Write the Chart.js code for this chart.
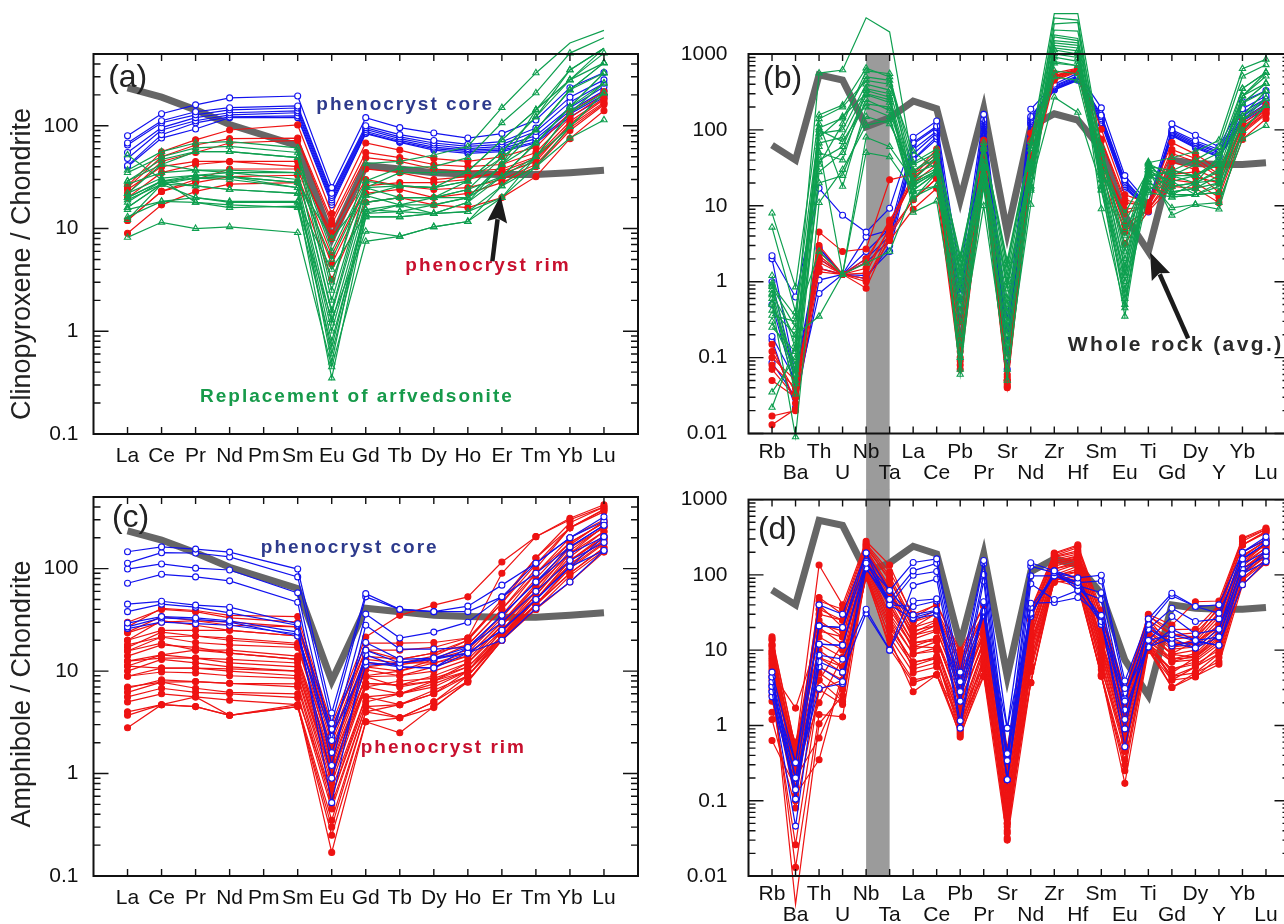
<!DOCTYPE html>
<html>
<head>
<meta charset="utf-8">
<script src="https://cdn.jsdelivr.net/npm/chart.js@4.4.1/dist/chart.umd.min.js"></script>
<style>
html,body{margin:0;padding:0;background:#ffffff;width:1284px;height:924px;overflow:hidden;position:relative}
canvas{position:absolute;display:block}
</style>
</head>
<body>
<canvas id="ca" width="642" height="490" style="left:0;top:0"></canvas>
<canvas id="cb" width="700" height="490" style="left:642px;top:0"></canvas>
<canvas id="cc" width="642" height="458" style="left:0;top:466px"></canvas>
<canvas id="cd" width="700" height="458" style="left:642px;top:466px"></canvas>
<script>
// ---------------- axes / categories ----------------
const REE_AXIS = ['La','Ce','Pr','Nd','Pm','Sm','Eu','Gd','Tb','Dy','Ho','Er','Tm','Yb','Lu'];
const SPIDER_AXIS = ['Rb','Ba','Th','U','Nb','Ta','La','Ce','Pb','Pr','Sr','Nd','Zr','Hf','Sm','Eu','Ti','Gd','Dy','Y','Yb','Lu'];
const REE_COLS = ['La','Ce','Pr','Nd','Sm','Eu','Gd','Tb','Dy','Ho','Er','Tm','Yb','Lu'];
const TRACE_COLS = ['Rb','Ba','Th','U','Nb','Ta','Pb','Sr','Zr','Hf','Ti','Y'];
const Y_TICKS_REE = [0.1, 1, 10, 100];
const Y_LABELS_REE = ['0.1', '1', '10', '100'];
const Y_TICKS_SPIDER = [0.01, 0.1, 1, 10, 100, 1000];
const Y_LABELS_SPIDER = ['0.01', '0.1', '1', '10', '100', '1000'];
const BAND_ELEMENTS = ['Nb', 'Ta'];

// ---------------- whole rock average ----------------
const wholeRockREE = [234,190,143,103,64,8,41,38,35,34,33.5,33.5,35,37];
const wholeRockSpider = [63,40,530,455,110,144,240,190,12,190,4.5,110,163,135,56,7.4,2.5,40,36,35,35,37];

// ---------------- clinopyroxene: phenocryst core ----------------
const cpxCoreREE = [
 [80,131,160,187,195,25,120,96,85,76,84,114,235,330],
 [68,112,137,150,156,22,100,82,72,66,70,95,190,280],
 [65,107,128,143,149,21,96,78,68,63,66,88,170,260],
 [55,96,120,134,140,20,92,75,65,60,63,80,150,240],
 [48,91,112,128,134,19,88,72,62,58,60,75,140,220],
 [41,82,107,122,125,18,85,70,60,56,58,70,130,200],
 [40,76,93,120,120,17,84,69,58,54,56,68,122,190]
];
const cpxCoreTrace = [
 [2.2,0.63,17,7.5,4.5,9.3,1.2,0.31,400,560,10.8,60],
 [2.0,0.06,2.8,1.25,3.9,4.8,0.67,0.2,380,520,10,55],
 [0.19,0.05,2.7,1.25,1.8,3.5,0.5,0.15,370,500,9.5,52],
 [0.17,0.022,1.05,1.25,1.1,3,0.3,0.1,360,480,9,50],
 [0.086,0.03,0.7,1.25,1.2,2.5,0.2,0.07,350,470,8.3,47],
 [0.5,0.04,1.5,1.25,2,4,0.25,0.09,340,460,8.8,45],
 [1.0,0.05,2,1.25,2.5,5,0.4,0.12,335,450,9,44]
];
// ---------------- clinopyroxene: phenocryst rim ----------------
const cpxRimREE = [
 [26,56,73,91,102,14,68,58,48,45,50,62,135,215],
 [25,50,65,75,76,12,55,49,42,40,42,55,120,200],
 [22,45,55,68,72,11,49,45,38,36,38,50,110,185],
 [24,40,45,45,40,9,38,35,30,32,34,45,105,180],
 [20,35,42,45,45,8,30,26,24,25,30,42,95,165],
 [12,23,30,38,38,5.5,26,28,28,30,36,48,100,170],
 [12,23,28,32,33,4.5,22,24,20,22,28,40,90,160],
 [9,17,23,27,28,3.2,18,20,17,16,20,32,75,140]
];
const cpxRimTrace = [
 [0.15,0.025,4.5,2.5,2.7,22,0.3,0.06,560,650,11,30],
 [0.017,0.02,2.2,1.25,2.0,6,0.2,0.055,520,640,10,26],
 [0.013,0.021,1.35,1.25,1.3,5.2,0.15,0.05,500,620,10,24],
 [0.12,0.035,2.5,1.25,1.5,5,0.12,0.05,500,610,10,22],
 [0.07,0.03,3,1.25,1.8,6.5,0.1,0.05,510,620,10,20],
 [0.05,0.03,1.5,1.25,0.82,4,0.09,0.045,480,600,9,15],
 [0.08,0.04,2,1.25,1.0,4.5,0.08,0.042,470,590,9,13],
 [0.1,0.05,1.8,1.25,1.1,3.5,0.07,0.04,450,580,8.5,11]
];
// ---------------- clinopyroxene: replacement of arfvedsonite ----------------
const cpxReplREE = [
 [35,50,61,63,55,2.5,43,45,52,63,150,327,640,850],
 [37,56,68,70,61,3,29,39,40,49,107,209,510,720],
 [29,42,56,56,49,2,25,35,35,36,73,143,350,570],
 [27,35,37,37,35,1.5,21,26,25,29,56,122,280,510],
 [22,31,33,32,28,1.2,18,20,20,24,49,91,224,410],
 [20,29,31,30,25,1,15.3,17,17,20,42,68,153,327],
 [19,27,26,24,22,0.8,14,14.6,14,18,32,50,134,260],
 [18,29,26,24,22,0.6,13,13,14,14.6,26,40,98,209],
 [16,27,31,32,25,0.5,18,20,20,24,32,68,153,327],
 [15.3,18.4,20,18.4,18.4,0.35,13,13,14,18,42,91,224,410],
 [13,18.4,18,16,16.5,1.3,9.4,8.4,10.4,11.7,20,40,76,114],
 [12.2,27,20,18,18,4,14,17,20,29,49,91,224,327],
 [8.2,11.5,10,10.4,9.1,0.45,7.5,8.4,10.4,11.7,26,50,98,209],
 [52,30,18,17,16,0.7,15.3,14.6,17,20,42,143,280,570],
 [29,47,56,56,49,6,29,26,25,29,56,122,350,570],
 [22,42,37,35,30,5,25,20,20,20,32,68,153,260],
 [20,29,33,32,28,8,21,17,14,14.6,20,50,134,209],
 [16,27,33,35,35,1.6,25,26,25,36,73,143,280,410]
];
const cpxReplTrace = [
 [0.86,0.25,560,615,3000,1950,2.2,1.9,3400,3400,37,73],
 [8,0.85,157,212,650,500,2,1.5,2070,2000,33,60],
 [5.2,0.4,106,143,500,450,1.8,1.2,1780,1600,30,50],
 [1.2,0.13,90,100,400,335,1.5,1,1680,1500,27,36],
 [0.95,0.06,67,80,330,270,1.3,0.8,1400,1300,25,30],
 [0.78,0.045,40,60,290,230,1,0.6,1130,1000,20,25],
 [0.67,0.033,28,50,250,180,0.8,0.5,910,800,18,18],
 [0.52,0.009,11,30,115,135,0.6,0.4,760,700,15,15],
 [0.42,0.2,0.35,1.25,50,44,0.5,0.3,500,450,35,28],
 [0.36,0.3,2.5,1.25,1.75,2.5,0.4,0.2,270,170,28,20],
 [0.035,0.1,120,18,200,150,0.3,0.15,1000,900,22,11],
 [0.022,0.15,80,150,300,250,0.2,0.1,1200,1100,32,45],
 [0.5,0.08,50,40,350,300,0.15,0.07,1500,1400,30,9],
 [0.6,0.05,140,200,450,400,0.1,0.05,2500,2600,38,20],
 [0.3,0.07,20,25,150,120,0.07,1.7,800,700,24,35],
 [0.25,0.12,60,1.25,80,60,0.06,0.9,600,550,16,22],
 [0.7,0.18,100,70,220,200,1.2,0.25,1300,1200,29,15],
 [0.9,0.35,35,120,600,550,0.9,0.12,3000,2800,36,40]
];
// ---------------- amphibole: phenocryst core ----------------
const amphCoreREE = [
 [146,163,155,145,99,3.9,57,40,38,43,69,113,200,320],
 [113,143,142,130,83,3.1,53,40,38,38,53,90,163,265],
 [99,111,101,97,58,2.1,36,21,24,30,53,113,200,290],
 [72,88,83,76,47,1.2,28,16.4,16.4,17,35,74,163,265],
 [45,48,44,42,29,2.7,19,13,13.4,17,35,74,140,205],
 [38,45,42,37,28,0.52,16,12,13.4,15,25,50,104,205],
 [29.4,34,33,31,24,1.6,14.4,11,10.7,15,25,50,104,150],
 [27,33,32,30,22,2.3,12.3,11,10.7,17,30,60,120,180],
 [26,30,29,28,23,0.9,11.4,12,13,15,20,41,74,150]
];
const amphCoreTrace = [
 [5.1,0.32,40,30,195,62,5.1,0.92,113,91,26,40],
 [4.4,0.2,21,20,143,47,3.8,0.42,107,79,22,31],
 [3.8,0.14,12,11.6,123,40,2.8,0.34,97,72,19,26],
 [3.3,0.105,8.6,7.6,35,10,2.1,0.19,47,62,13.5,19],
 [2.8,0.046,7,5.1,31,10,1.15,0.19,43,50,11,15],
 [2.4,0.14,6,3.8,150,40,0.92,0.42,100,72,13.5,11.6],
 [3.3,0.2,3.1,3.6,120,47,2.1,0.34,97,79,11,15],
 [4.4,0.105,12,11.6,143,62,3.8,0.92,107,91,19,19],
 [2.8,0.32,21,20,195,40,2.8,0.19,113,62,22,11.6]
];
// ---------------- amphibole: phenocryst rim ----------------
const amphRimREE = [
 [27,41,39,35,34,3.0,21.5,35,44,53,116,205,310,420],
 [24,34,31,30,27,2.5,18.7,18.7,19,21,90,205,300,400],
 [23.6,30,31,28,27,2.2,16,16,17,21,46,127,250,375],
 [20,25,25,25,22,2.0,14,13,15,18,40,100,250,360],
 [18,21.5,22,21,18.7,1.8,12,11.5,13,16,35,90,200,300],
 [15.7,21.5,19,18,17,1.6,11,10,12,15,33,80,180,280],
 [15.7,18.7,16,16,14,1.4,10.3,9,11,14,30,66,160,250],
 [12.5,14.4,16,15,13,1.3,8.8,9,10,13,28,60,150,255],
 [12.5,13.4,13.4,13,12,1.1,7.6,7.3,9,12,25,55,130,230],
 [11.2,14.4,13.4,12,11,1.0,7,8,8.5,11,24,50,120,210],
 [11.2,10.7,10.7,10.5,10,0.9,7.6,7.3,8,11,22,50,120,200],
 [8.9,10.7,10.7,10,9,0.8,7,6,7.5,10,22,50,110,190],
 [8.9,9.8,9.6,9,8.5,0.7,5.6,6,7,10,21,45,104,180],
 [6.8,8.2,7.9,7.6,7.5,0.6,5.6,4.7,6.5,9,20,45,100,175],
 [7,7.8,7.9,7.6,7,0.5,4.5,4.7,6,9,21,50,110,190],
 [6.2,7.8,6.8,6.2,6,0.45,4.5,3.5,5,8,20,44,90,160],
 [5,6,5.6,5.2,4.7,0.35,4,3.5,4.4,8,20,40,85,150],
 [4,4.7,4.5,3.7,4.7,0.17,3.2,2.5,4.5,7.8,20,40,74,145],
 [3.7,4.7,5.6,3.7,4.5,0.25,3.2,3.5,5,9,22,45,90,160],
 [2.8,4.7,4.5,3.7,4.5,0.3,4,4.7,6,10,25,60,120,200],
 [20,31,28,25,22,2.4,11,12,14,20,46,110,250,380],
 [30,40,38,33,30,2.8,16,13,15,20,50,127,280,400],
 [10,13,12,11,10,1.0,9,10,13,18,40,90,180,280],
 [14,18,17,15,13,1.2,8.8,7,8,10,22,55,140,260],
 [5.6,6.8,6.2,6,5.5,0.6,5,6,8,12,28,66,140,230],
 [17,24,22,20,18,1.5,13,12,12,14,30,70,170,290]
];
const amphRimTrace = [
 [15,0.5,135,40,280,135,10,0.5,195,250,30,45],
 [13.5,0.3,50,30,250,97,8,0.4,180,230,28,40],
 [11.6,0.2,40,20,240,83,6,0.3,170,200,25,35],
 [8.6,0.4,30,25,220,70,5,0.25,160,190,22,30],
 [10,0.15,25,15,200,60,4,0.2,150,180,20,28],
 [7,0.25,20,12,210,55,3.5,0.15,140,170,18,25],
 [5,1.7,15,10,190,50,3,0.12,130,160,17,22],
 [6,0.35,12,8,180,45,2.5,0.1,120,150,16,20],
 [4,0.6,10,6,170,40,2,0.09,110,140,15,18],
 [3,0.1,8,5,160,35,1.8,0.08,100,130,14,16],
 [2.1,0.2,6,4,150,30,1.5,0.07,95,120,13,15],
 [1.5,0.3,5,3,140,28,1.3,0.06,90,110,12,13],
 [0.63,0.15,4,2.1,130,25,1.1,0.05,85,100,11,12],
 [2.5,0.026,3,1.9,120,22,1,0.045,80,90,10,10],
 [3.5,0.013,1.4,1.3,110,20,0.9,0.037,85,95,12,11],
 [4.5,0.0042,1.05,2.5,100,18,0.8,0.032,80,85,11,9],
 [9,0.2,0.68,3.5,95,15,0.7,0.04,90,80,10,8],
 [6.5,0.12,0.35,5,90,12,0.75,0.03,85,70,10,6.5],
 [5.5,0.25,2,8,100,10.5,0.85,0.05,95,75,11,7],
 [12,0.4,4,12,110,14,1.2,0.06,100,80,13,9],
 [14,0.5,35,25,230,90,7,0.35,175,210,26,32],
 [11,0.35,45,35,260,110,9,0.45,190,240,29,38],
 [8,0.3,8,6,160,40,2.2,0.1,120,140,15,20],
 [9.5,0.45,18,15,200,60,3,0.15,140,165,18,17],
 [1.2,0.08,3,4,130,25,1.4,0.07,100,110,13,14],
 [7.5,0.2,22,18,210,65,4.5,0.2,150,175,20,22]
];

// ---------------- styling ----------------
const FONT = '"Liberation Sans", Arial, Helvetica, sans-serif';
const C_BLUE = '#1212ee', C_RED = '#ee1313', C_GREEN = '#0e9f4f', C_WR = '#666666';
const MINOR = [1,2,3,4,5,6,7,8,9];

function reePoints(v) {
  return REE_AXIS.map((el, i) => { const k = REE_COLS.indexOf(el); return {x: i + 1, y: k < 0 ? null : v[k]}; });
}
function spiderPoints(ree, tr) {
  return SPIDER_AXIS.map((el, i) => {
    const t = TRACE_COLS.indexOf(el);
    return {x: i, y: t >= 0 ? tr[t] : ree[REE_COLS.indexOf(el)]};
  });
}
function sampleDs(points, color, kind) {
  return {
    data: points, borderColor: color, borderWidth: 1.2,
    pointStyle: kind === 'tri' ? 'triangle' : 'circle',
    pointRadius: kind === 'tri' ? 3.6 : 3,
    pointBorderColor: color, pointBorderWidth: 1.1,
    pointBackgroundColor: kind === 'fill' ? color : (kind === 'open' ? '#ffffff' : 'rgba(255,255,255,0)'),
    spanGaps: true, clip: false, tension: 0, fill: false
  };
}
function wrDs(points) {
  return {data: points, borderColor: C_WR, borderWidth: 7, pointRadius: 0, spanGaps: true, clip: false,
          tension: 0, fill: false, borderJoinStyle: 'miter', borderCapStyle: 'butt'};
}

const deco = {
  id: 'deco',
  beforeDraw(chart, args, o) {
    if (!o.band) return;
    const {ctx, chartArea: a, scales: {x}} = chart;
    const x1 = x.getPixelForValue(SPIDER_AXIS.indexOf(BAND_ELEMENTS[0]));
    const x2 = x.getPixelForValue(SPIDER_AXIS.indexOf(BAND_ELEMENTS[1]));
    const y1 = a.top - o.band.extendTop;
    const y2 = o.band.toCanvasBottom ? chart.height : a.bottom;
    ctx.save(); ctx.fillStyle = '#9b9b9b'; ctx.fillRect(x1, y1, x2 - x1, y2 - y1); ctx.restore();
  },
  afterDraw(chart, args, o) {
    const {ctx, chartArea: a, scales: {x, y}} = chart;
    ctx.save();
    ctx.strokeStyle = '#111'; ctx.lineWidth = 1.4;
    ctx.beginPath();
    o.xTicks.forEach(v => {
      const px = x.getPixelForValue(v);
      ctx.moveTo(px, a.bottom); ctx.lineTo(px, a.bottom - 7);
      ctx.moveTo(px, a.top); ctx.lineTo(px, a.top + 7);
    });
    o.decades.forEach(d => {
      MINOR.forEach(m => {
        const v = d * m;
        if (v < y.min * 0.999 || v > y.max * 1.001) return;
        const py = y.getPixelForValue(v);
        const L = m === 1 ? 15 : 7;
        ctx.moveTo(a.left, py); ctx.lineTo(a.left + L, py);
        ctx.moveTo(a.right, py); ctx.lineTo(a.right - L, py);
      });
    });
    ctx.stroke();
    ctx.lineWidth = 2;
    ctx.strokeRect(a.left, a.top, a.right - a.left, a.bottom - a.top);

    // arrows
    (o.arrows || []).forEach(ar => {
      const tx = x.getPixelForValue(ar.x1), ty = y.getPixelForValue(ar.y1);
      const hx = x.getPixelForValue(ar.x2), hy = y.getPixelForValue(ar.y2);
      const ang = Math.atan2(hy - ty, hx - tx);
      const hl = 27, hw = 10;
      const bx = hx - hl * Math.cos(ang), by = hy - hl * Math.sin(ang);
      ctx.strokeStyle = '#1b1b1b'; ctx.fillStyle = '#1b1b1b'; ctx.lineWidth = 4.5; ctx.lineCap = 'butt';
      ctx.beginPath(); ctx.moveTo(tx, ty); ctx.lineTo(bx + 3 * Math.cos(ang), by + 3 * Math.sin(ang)); ctx.stroke();
      ctx.beginPath();
      ctx.moveTo(hx, hy);
      ctx.lineTo(bx + hw * Math.sin(ang), by - hw * Math.cos(ang));
      ctx.lineTo(bx + 4 * Math.cos(ang), by + 4 * Math.sin(ang));
      ctx.lineTo(bx - hw * Math.sin(ang), by + hw * Math.cos(ang));
      ctx.closePath(); ctx.fill();
    });

    // notes
    (o.notes || []).forEach(n => {
      ctx.font = (n.bold ? 'bold ' : '') + n.size + 'px ' + FONT;
      ctx.fillStyle = n.color;
      ctx.letterSpacing = (n.ls || 0) + 'px';
      ctx.textAlign = n.align || 'center';
      ctx.textBaseline = 'middle';
      ctx.fillText(n.t, x.getPixelForValue(n.x), y.getPixelForValue(n.y));
    });
    ctx.letterSpacing = '0px';

    // y title
    if (o.title) {
      ctx.save();
      ctx.translate(o.title.cx, o.title.cy);
      ctx.rotate(-Math.PI / 2);
      ctx.font = o.title.size + 'px ' + FONT;
      ctx.fillStyle = '#222';
      ctx.textAlign = 'center'; ctx.textBaseline = 'middle';
      ctx.fillText(o.title.t, 0, 0);
      ctx.restore();
    }
    ctx.restore();
  }
};

function makeChart(id, o) {
  return new Chart(document.getElementById(id), {
    type: 'line',
    data: {datasets: o.datasets},
    options: {
      responsive: false, animation: false, events: [],
      layout: {autoPadding: false, padding: o.pad},
      plugins: {legend: {display: false}, tooltip: {enabled: false}, deco: o.deco},
      scales: {
        x: {
          type: 'linear', min: o.xmin, max: o.xmax,
          afterBuildTicks: ax => { ax.ticks = o.xTicks.map(v => ({value: v})); },
          afterFit: ax => { ax.height = o.xH; },
          grid: {display: false, drawTicks: false}, border: {display: false},
          ticks: {autoSkip: false, maxRotation: 0, minRotation: 0, padding: o.xPad, color: '#111',
                  font: {family: FONT, size: 21, lineHeight: o.xLH}, callback: v => o.xLabel(v)}
        },
        y: {
          type: 'logarithmic', min: o.ymin, max: o.ymax,
          afterBuildTicks: ax => { ax.ticks = o.yTicks.map(v => ({value: v})); },
          afterFit: ax => { ax.width = o.yW; },
          grid: {display: false, drawTicks: false}, border: {display: false},
          ticks: {autoSkip: false, padding: o.yPad, color: '#111', font: {family: FONT, size: 21},
                  callback: (v, i) => o.yLabels[i]}
        }
      }
    },
    plugins: [deco]
  });
}

const reeXTicks = REE_AXIS.map((e, i) => i + 1);
const spXTicks = SPIDER_AXIS.map((e, i) => i);
const reeLabel = v => REE_AXIS[v - 1] || '';
const spLabel = v => (v % 2 ? ['', SPIDER_AXIS[v]] : SPIDER_AXIS[v]);

// ---------- (a) ----------
const dsA = [].concat(
  cpxReplREE.map(r => sampleDs(reePoints(r), C_GREEN, 'tri')),
  cpxRimREE.map(r => sampleDs(reePoints(r), C_RED, 'fill')),
  cpxCoreREE.map(r => sampleDs(reePoints(r), C_BLUE, 'open')),
  [wrDs(reePoints(wholeRockREE))]
);
makeChart('ca', {
  datasets: dsA, pad: {left: 0, top: 54, right: 4, bottom: 0}, xH: 56, yW: 93.5,
  xmin: 0, xmax: 16, xTicks: reeXTicks, xLabel: reeLabel, xPad: 10, xLH: 1.2,
  ymin: 0.1, ymax: 500, yTicks: Y_TICKS_REE, yLabels: Y_LABELS_REE, yPad: 15,
  deco: {
    xTicks: reeXTicks, decades: Y_TICKS_REE,
    title: {t: 'Clinopyroxene / Chondrite', cx: 23, cy: 264, size: 27},
    notes: [
      {t: '(a)', x: 0.43, y: 290, size: 32, color: '#222', align: 'left'},
      {t: 'phenocryst core', x: 9.16, y: 160, size: 19, bold: true, ls: 2, color: '#2d3a8c'},
      {t: 'phenocryst rim', x: 11.59, y: 4.3, size: 19, bold: true, ls: 2, color: '#c8102e'},
      {t: 'Replacement of arfvedsonite', x: 7.74, y: 0.229, size: 19, bold: true, ls: 2, color: '#169a4a'}
    ],
    arrows: [{x1: 11.72, y1: 4.8, x2: 11.96, y2: 21}]
  }
});

// ---------- (b) ----------
const dsB = [].concat(
  cpxReplREE.map((r, i) => sampleDs(spiderPoints(r, cpxReplTrace[i]), C_GREEN, 'tri')),
  cpxRimREE.map((r, i) => sampleDs(spiderPoints(r, cpxRimTrace[i]), C_RED, 'fill')),
  cpxCoreREE.map((r, i) => sampleDs(spiderPoints(r, cpxCoreTrace[i]), C_BLUE, 'open')),
  [wrDs(SPIDER_AXIS.map((e, i) => ({x: i, y: wholeRockSpider[i]})))]
);
makeChart('cb', {
  datasets: dsB, pad: {left: 0, top: 54, right: 52.5, bottom: 0}, xH: 56.5, yW: 106.5,
  xmin: -1, xmax: 22, xTicks: spXTicks, xLabel: spLabel, xPad: 8, xLH: 1.0,
  ymin: 0.01, ymax: 1000, yTicks: Y_TICKS_SPIDER, yLabels: Y_LABELS_SPIDER, yPad: 21,
  deco: {
    xTicks: spXTicks, decades: Y_TICKS_SPIDER,
    band: {extendTop: 0, toCanvasBottom: true},
    notes: [
      {t: '(b)', x: -0.38, y: 460, size: 32, color: '#222', align: 'left'},
      {t: 'Whole rock (avg.)', x: 17.16, y: 0.147, size: 21, bold: true, ls: 2.4, color: '#2a2a2a'}
    ],
    arrows: [{x1: 17.69, y1: 0.179, x2: 16.07, y2: 2.44}]
  }
});

// ---------- (c) ----------
const dsC = [].concat(
  amphCoreREE.map(r => sampleDs(reePoints(r), C_BLUE, 'open')),
  amphRimREE.map(r => sampleDs(reePoints(r), C_RED, 'fill')),
  [wrDs(reePoints(wholeRockREE))]
);
makeChart('cc', {
  datasets: dsC, pad: {left: 0, top: 31, right: 4, bottom: 0}, xH: 48, yW: 93.5,
  xmin: 0, xmax: 16, xTicks: reeXTicks, xLabel: reeLabel, xPad: 10, xLH: 1.2,
  ymin: 0.1, ymax: 500, yTicks: Y_TICKS_REE, yLabels: Y_LABELS_REE, yPad: 15,
  deco: {
    xTicks: reeXTicks, decades: Y_TICKS_REE,
    title: {t: 'Amphibole / Chondrite', cx: 23, cy: 228, size: 27},
    notes: [
      {t: '(c)', x: 0.54, y: 312, size: 32, color: '#222', align: 'left'},
      {t: 'phenocryst core', x: 7.53, y: 159, size: 19, bold: true, ls: 2, color: '#2d3a8c'},
      {t: 'phenocryst rim', x: 10.28, y: 1.78, size: 19, bold: true, ls: 2, color: '#c8102e'}
    ]
  }
});

// ---------- (d) ----------
const dsD = [].concat(
  amphCoreREE.map((r, i) => sampleDs(spiderPoints(r, amphCoreTrace[i]), C_BLUE, 'open')),
  amphRimREE.map((r, i) => sampleDs(spiderPoints(r, amphRimTrace[i]), C_RED, 'fill')),
  [wrDs(SPIDER_AXIS.map((e, i) => ({x: i, y: wholeRockSpider[i]})))]
);
makeChart('cd', {
  datasets: dsD, pad: {left: 0, top: 30, right: 52.5, bottom: 0}, xH: 48, yW: 106.5,
  xmin: -1, xmax: 22, xTicks: spXTicks, xLabel: spLabel, xPad: 8, xLH: 1.0,
  ymin: 0.01, ymax: 1000, yTicks: Y_TICKS_SPIDER, yLabels: Y_LABELS_SPIDER, yPad: 21,
  deco: {
    xTicks: spXTicks, decades: Y_TICKS_SPIDER,
    band: {extendTop: 10, toCanvasBottom: false},
    notes: [
      {t: '(d)', x: -0.6, y: 390, size: 32, color: '#222', align: 'left'}
    ]
  }
});
</script>
</body>
</html>
